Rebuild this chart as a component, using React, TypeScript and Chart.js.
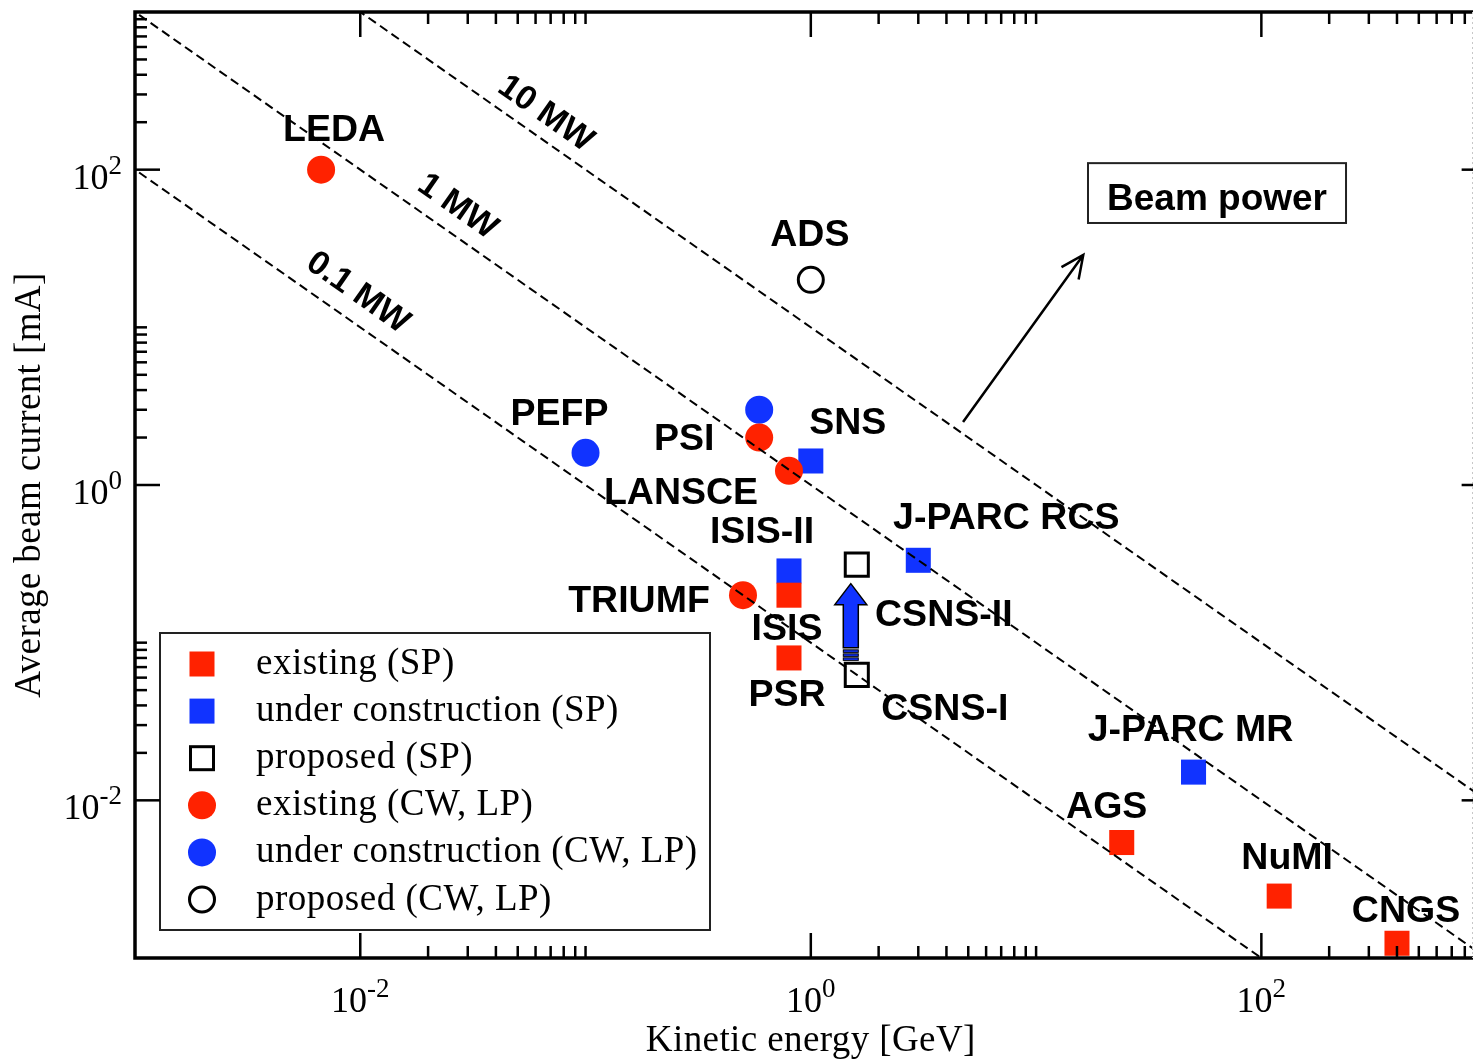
import React, { useEffect, useRef } from 'react';
import { Chart, registerables } from 'chart.js';

Chart.register(...registerables);

const RED = '#ff2200';
const BLUE = '#1133ff';
const SANS = '"Liberation Sans", Arial, Helvetica, sans-serif';
const SERIF = '"Liberation Serif", "Times New Roman", Times, serif';

// ---- axis ranges (log-log) ----
const X_MIN = 1e-3;
const X_MAX = 870;
const X_FRAME_END = 1e3;
const Y_MIN = 1e-3;
const Y_MAX = 1e3;
const majorTickExponents = [-2, 0, 2];
const minorTickMultipliers = [2, 3, 4, 5, 6, 7, 8, 9, 10];
const xAxisTitle = 'Kinetic energy [GeV]';
const yAxisTitle = 'Average beam current [mA]';

// ---- facilities: kinetic energy [GeV], average beam current [mA] ----
const existingSPNames = ['ISIS', 'PSR', 'AGS', 'NuMI', 'CNGS'];
const existingSPEnergy = [0.8, 0.8, 24, 120, 400];
const existingSPCurrent = [0.2, 0.08, 0.0054, 0.00247, 0.00124];

const constructionSPNames = ['SNS', 'J-PARC RCS', 'ISIS-II', 'J-PARC MR'];
const constructionSPEnergy = [1.0, 3.0, 0.8, 50];
const constructionSPCurrent = [1.42, 0.333, 0.285, 0.0151];

const proposedSPNames = ['CSNS-II', 'CSNS-I'];
const proposedSPEnergy = [1.6, 1.6];
const proposedSPCurrent = [0.3125, 0.0625];

const existingCWNames = ['LEDA', 'PSI', 'LANSCE', 'TRIUMF'];
const existingCWEnergy = [0.0067, 0.59, 0.8, 0.5];
const existingCWCurrent = [100, 2.0, 1.23, 0.2];

const constructionCWNames = ['PEFP', ''];
const constructionCWEnergy = [0.1, 0.59];
const constructionCWCurrent = [1.6, 3.0];

const proposedCWNames = ['ADS'];
const proposedCWEnergy = [1.0];
const proposedCWCurrent = [20];

// ---- constant beam-power lines (P = E x I) ----
const powerLineEnergy = [1e-4, 1e4];
const power01MWCurrent = [1e3, 1e-5];
const power1MWCurrent = [1e4, 1e-4];
const power10MWCurrent = [1e5, 1e-3];
const powerValuesMW = [0.1, 1, 10];
const powerLabels = ['0.1 MW', '1 MW', '10 MW'];
const powerLabelEnergy = [0.0099, 0.0274, 0.0675];
const powerLabelLift = [36, 34, 31];

// ---- annotation layout (pixel offsets of facility labels from their marker) ----
const labelOffsets: Record<string, [number, number]> = {
  LEDA: [13, -42],
  ADS: [-1, -47],
  PEFP: [-26, -41],
  PSI: [-75, -1],
  SNS: [37, -40],
  LANSCE: [-108, 20],
  'ISIS-II': [-27, -41],
  'J-PARC RCS': [88, -44],
  TRIUMF: [-104, 4],
  ISIS: [-2, 32],
  'CSNS-II': [87, 48],
  PSR: [-2, 35],
  'CSNS-I': [88, 32],
  'J-PARC MR': [-3, -44],
  AGS: [-15, -38],
  NuMI: [8, -40],
  CNGS: [9, -34],
};

// "Beam power" annotation in data coordinates
const beamArrowStart = [4.74, 2.51];
const beamArrowEnd = [16.2, 28.8];
const beamBoxCorner1 = [17.0, 110];
const beamBoxCorner2 = [237.6, 45.9];
const beamBoxText = 'Beam power';

type Shape = 'rect' | 'circle';
interface Series {
  label: string;
  names: string[];
  energy: number[];
  current: number[];
  shape: Shape;
  filled: boolean;
  color: string;
  order: number;
}

const series: Series[] = [
  { label: 'existing (SP)', names: existingSPNames, energy: existingSPEnergy, current: existingSPCurrent, shape: 'rect', filled: true, color: RED, order: 1 },
  { label: 'under construction (SP)', names: constructionSPNames, energy: constructionSPEnergy, current: constructionSPCurrent, shape: 'rect', filled: true, color: BLUE, order: 2 },
  { label: 'proposed (SP)', names: proposedSPNames, energy: proposedSPEnergy, current: proposedSPCurrent, shape: 'rect', filled: false, color: '#000', order: 3 },
  { label: 'existing (CW, LP)', names: existingCWNames, energy: existingCWEnergy, current: existingCWCurrent, shape: 'circle', filled: true, color: RED, order: 1 },
  { label: 'under construction (CW, LP)', names: constructionCWNames, energy: constructionCWEnergy, current: constructionCWCurrent, shape: 'circle', filled: true, color: BLUE, order: 2 },
  { label: 'proposed (CW, LP)', names: proposedCWNames, energy: proposedCWEnergy, current: proposedCWCurrent, shape: 'circle', filled: false, color: '#000', order: 3 },
];

const toPoints = (e: number[], c: number[]) => e.map((x, i) => ({ x, y: c[i] }));

function pointRadius(s: Series) {
  if (s.shape === 'rect') return s.filled ? 17.7 : 16.3;
  return s.filled ? 14 : 12.5;
}

function drawLegendMarker(ctx: CanvasRenderingContext2D, s: Series, cx: number, cy: number) {
  ctx.save();
  if (s.shape === 'rect') {
    if (s.filled) {
      ctx.fillStyle = s.color;
      ctx.fillRect(cx - 12.5, cy - 12.5, 25, 25);
    } else {
      ctx.strokeStyle = '#000';
      ctx.lineWidth = 3;
      ctx.strokeRect(cx - 11.5, cy - 11.5, 23, 23);
    }
  } else {
    ctx.beginPath();
    if (s.filled) {
      ctx.arc(cx, cy, 14, 0, Math.PI * 2);
      ctx.fillStyle = s.color;
      ctx.fill();
    } else {
      ctx.arc(cx, cy, 12.5, 0, Math.PI * 2);
      ctx.strokeStyle = '#000';
      ctx.lineWidth = 3;
      ctx.stroke();
    }
  }
  ctx.restore();
}

function setSpacing(ctx: CanvasRenderingContext2D, v: string) {
  (ctx as any).letterSpacing = v;
}

function drawPow10(ctx: CanvasRenderingContext2D, exp: number, x: number, baseY: number, align: 'center' | 'right') {
  const main = '10';
  const sup = String(exp);
  ctx.font = `36px ${SERIF}`;
  const wm = ctx.measureText(main).width;
  ctx.font = `27px ${SERIF}`;
  const ws = ctx.measureText(sup).width;
  const total = wm + ws;
  const start = align === 'center' ? x - total / 2 : x - total;
  ctx.textAlign = 'left';
  ctx.textBaseline = 'alphabetic';
  ctx.fillStyle = '#000';
  ctx.font = `36px ${SERIF}`;
  ctx.fillText(main, start, baseY);
  ctx.font = `27px ${SERIF}`;
  ctx.fillText(sup, start + wm, baseY - 15);
}

const overlay = {
  id: 'overlay',
  afterDraw(chart: any) {
    const ctx: CanvasRenderingContext2D = chart.ctx;
    const xs = chart.scales.x;
    const ys = chart.scales.y;
    const a = chart.chartArea;
    const X = (v: number) => xs.getPixelForValue(v);
    const Y = (v: number) => ys.getPixelForValue(v);
    ctx.save();

    // power line labels
    const ang = Math.atan2(Y(power1MWCurrent[1]) - Y(power1MWCurrent[0]), X(powerLineEnergy[1]) - X(powerLineEnergy[0]));
    powerLabels.forEach((t, i) => {
      const e = powerLabelEnergy[i];
      const px = X(e);
      const py = Y(powerValuesMW[i] / e) - powerLabelLift[i];
      ctx.save();
      ctx.translate(px, py);
      ctx.rotate(ang);
      ctx.font = `bold 34px ${SANS}`;
      ctx.fillStyle = '#000';
      ctx.textAlign = 'center';
      ctx.textBaseline = 'alphabetic';
      ctx.fillText(t, 0, 12);
      ctx.restore();
    });

    // facility labels
    ctx.font = `bold 37.5px ${SANS}`;
    ctx.fillStyle = '#000';
    ctx.textAlign = 'center';
    ctx.textBaseline = 'alphabetic';
    series.forEach((s) => {
      s.names.forEach((n, i) => {
        if (!n || !labelOffsets[n]) return;
        const [dx, dy] = labelOffsets[n];
        ctx.fillText(n, X(s.energy[i]) + dx, Y(s.current[i]) + dy + 13);
      });
    });

    // Beam power box + arrow
    const bx1 = X(beamBoxCorner1[0]);
    const by1 = Y(beamBoxCorner1[1]);
    const bx2 = X(beamBoxCorner2[0]);
    const by2 = Y(beamBoxCorner2[1]);
    ctx.fillStyle = '#fff';
    ctx.fillRect(bx1, by1, bx2 - bx1, by2 - by1);
    ctx.strokeStyle = '#222';
    ctx.lineWidth = 2;
    ctx.strokeRect(bx1, by1, bx2 - bx1, by2 - by1);
    ctx.fillStyle = '#000';
    ctx.font = `bold 37px ${SANS}`;
    ctx.textAlign = 'center';
    ctx.fillText(beamBoxText, (bx1 + bx2) / 2, by2 - 13);

    const sx = X(beamArrowStart[0]);
    const sy = Y(beamArrowStart[1]);
    const tx = X(beamArrowEnd[0]);
    const ty = Y(beamArrowEnd[1]);
    ctx.strokeStyle = '#000';
    ctx.lineWidth = 2.5;
    ctx.beginPath();
    ctx.moveTo(sx, sy);
    ctx.lineTo(tx, ty);
    const back = Math.atan2(sy - ty, sx - tx);
    const arm = 25;
    const spread = (25 * Math.PI) / 180;
    ctx.moveTo(tx + arm * Math.cos(back + spread), ty + arm * Math.sin(back + spread));
    ctx.lineTo(tx, ty);
    ctx.lineTo(tx + arm * Math.cos(back - spread), ty + arm * Math.sin(back - spread));
    ctx.stroke();

    // blue upgrade arrow CSNS-I -> CSNS-II
    const ax = X(proposedSPEnergy[0]) - 6;
    const tipY = Y(proposedSPCurrent[0]) + 19;
    const tailY = Y(proposedSPCurrent[1]) - 15;
    const headBase = tipY + 21;
    const shaftEnd = tailY - 12;
    ctx.fillStyle = BLUE;
    ctx.strokeStyle = '#000';
    ctx.lineWidth = 1.5;
    ctx.beginPath();
    ctx.moveTo(ax, tipY);
    ctx.lineTo(ax + 16, headBase);
    ctx.lineTo(ax + 7.5, headBase);
    ctx.lineTo(ax + 7.5, shaftEnd);
    ctx.lineTo(ax - 7.5, shaftEnd);
    ctx.lineTo(ax - 7.5, headBase);
    ctx.lineTo(ax - 16, headBase);
    ctx.closePath();
    ctx.fill();
    ctx.stroke();
    const bands = [shaftEnd + 2, shaftEnd + 6, shaftEnd + 10];
    ctx.lineWidth = 1;
    bands.forEach((b) => {
      ctx.fillRect(ax - 7.5, b, 15, 2.5);
      ctx.strokeRect(ax - 7.5, b, 15, 2.5);
    });

    // legend
    const lx = a.left + 25;
    const ly = 633;
    const lw = 550;
    const lh = 297;
    ctx.fillStyle = '#fff';
    ctx.fillRect(lx, ly, lw, lh);
    ctx.strokeStyle = '#222';
    ctx.lineWidth = 2;
    ctx.strokeRect(lx, ly, lw, lh);
    series.forEach((s, i) => {
      const cy = ly + 31 + i * 47.1;
      drawLegendMarker(ctx, s, lx + 42, cy);
      ctx.fillStyle = '#000';
      ctx.font = `37px ${SERIF}`;
      ctx.textAlign = 'left';
      ctx.textBaseline = 'alphabetic';
      setSpacing(ctx, '0.5px');
      ctx.fillText(s.label, lx + 96, cy + 10);
      setSpacing(ctx, '0px');
    });

    // frame
    const xEnd = X(X_FRAME_END);
    ctx.strokeStyle = '#000';
    ctx.lineWidth = 3.5;
    ctx.lineCap = 'square';
    ctx.beginPath();
    ctx.moveTo(xEnd + 5, a.top);
    ctx.lineTo(a.left, a.top);
    ctx.lineTo(a.left, a.bottom);
    ctx.lineTo(xEnd + 5, a.bottom);
    ctx.stroke();
    ctx.lineCap = 'butt';
    ctx.save();
    ctx.strokeStyle = '#c8c8c8';
    ctx.lineWidth = 1;
    ctx.setLineDash([2, 3]);
    ctx.beginPath();
    ctx.moveTo(a.right - 0.5, a.top);
    ctx.lineTo(a.right - 0.5, a.bottom);
    ctx.stroke();
    ctx.restore();

    // ticks
    ctx.strokeStyle = '#000';
    ctx.lineWidth = 2.5;
    const MAJ = 25;
    const MIN = 12;
    const tick = (x1: number, y1: number, x2: number, y2: number) => {
      ctx.beginPath();
      ctx.moveTo(x1, y1);
      ctx.lineTo(x2, y2);
      ctx.stroke();
    };
    majorTickExponents.forEach((ex) => {
      const v = Math.pow(10, ex);
      const px = X(v);
      tick(px, a.top, px, a.top + MAJ);
      tick(px, a.bottom, px, a.bottom - MAJ);
      const py = Y(v);
      tick(a.left, py, a.left + MAJ, py);
      tick(xEnd, py, xEnd - MAJ, py);
      minorTickMultipliers.forEach((k) => {
        const mv = k * v;
        if (mv > X_MIN && mv <= X_FRAME_END) {
          const mx = X(mv);
          tick(mx, a.top, mx, a.top + MIN);
          tick(mx, a.bottom, mx, a.bottom - MIN);
        }
        if (mv > Y_MIN && mv < Y_MAX) {
          const my = Y(mv);
          tick(a.left, my, a.left + MIN, my);
          tick(xEnd, my, xEnd - MIN, my);
        }
      });
    });

    // tick labels
    majorTickExponents.forEach((ex) => {
      const v = Math.pow(10, ex);
      drawPow10(ctx, ex, X(v), a.bottom + 54, 'center');
      drawPow10(ctx, ex, a.left - 13, Y(v) + 19, 'right');
    });

    // axis titles
    ctx.fillStyle = '#000';
    ctx.font = `37px ${SERIF}`;
    ctx.textAlign = 'center';
    ctx.textBaseline = 'alphabetic';
    setSpacing(ctx, '0.4px');
    ctx.fillText(xAxisTitle, (a.left + xEnd) / 2, 1051);
    ctx.save();
    ctx.translate(40, (a.top + a.bottom) / 2);
    ctx.rotate(-Math.PI / 2);
    ctx.fillText(yAxisTitle, 0, 0);
    ctx.restore();
    setSpacing(ctx, '0px');

    ctx.restore();
  },
};

export default function App() {
  const ref = useRef<HTMLCanvasElement>(null);
  useEffect(() => {
    document.body.style.margin = '0';
    document.body.style.overflow = 'hidden';
    const canvas = ref.current;
    if (!canvas) return;

    const lineStyle = {
      type: 'line' as const,
      borderColor: '#000',
      borderWidth: 2,
      borderDash: [9, 5],
      pointRadius: 0,
      fill: false,
      showLine: true,
      order: 0,
    };

    const datasets: any[] = [
      { ...lineStyle, label: '0.1 MW', data: toPoints(powerLineEnergy, power01MWCurrent) },
      { ...lineStyle, label: '1 MW', data: toPoints(powerLineEnergy, power1MWCurrent) },
      { ...lineStyle, label: '10 MW', data: toPoints(powerLineEnergy, power10MWCurrent) },
      ...series.map((s) => ({
        type: 'scatter',
        label: s.label,
        data: toPoints(s.energy, s.current),
        pointStyle: s.shape,
        pointRadius: pointRadius(s),
        pointHoverRadius: pointRadius(s),
        backgroundColor: s.filled ? s.color : 'rgba(0,0,0,0)',
        borderColor: s.filled ? s.color : '#000',
        borderWidth: s.filled ? 0 : 3,
        showLine: false,
        order: s.order,
      })),
    ];

    const chart = new Chart(canvas, {
      type: 'scatter',
      data: { datasets },
      options: {
        responsive: false,
        devicePixelRatio: 1,
        animation: false,
        layout: { autoPadding: false, padding: { left: 135, top: 12, right: 0, bottom: 102 } },
        plugins: { legend: { display: false }, tooltip: { enabled: false } },
        events: [],
        scales: {
          x: { type: 'logarithmic', min: X_MIN, max: X_MAX, display: false },
          y: { type: 'logarithmic', min: Y_MIN, max: Y_MAX, display: false },
        },
      },
      plugins: [overlay],
    } as any);
    return () => chart.destroy();
  }, []);
  return <canvas ref={ref} width={1473} height={1060} style={{ display: 'block' }} />;
}
